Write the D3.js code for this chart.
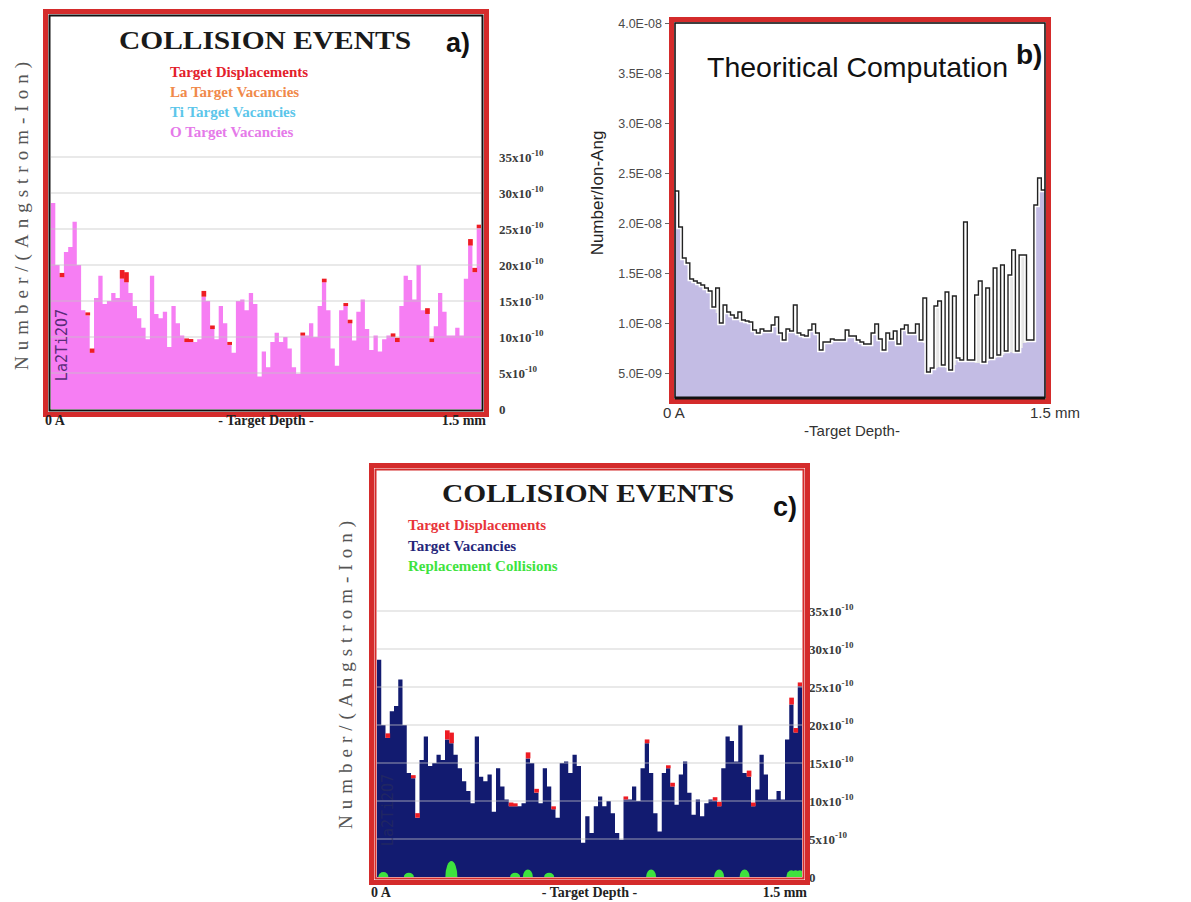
<!DOCTYPE html>
<html>
<head>
<meta charset="utf-8">
<script src="https://cdn.jsdelivr.net/npm/d3@7"></script>
<style>
  body { margin: 0; background: #fff; }
  svg { display: block; }
</style>
</head>
<body>
<div id="chart"></div>
<script>
// 100 depth bins from 0 A to 1.5 mm
var bins = d3.range(100);

// Target vacancies, x10^-10 per (Angstrom-Ion), same profile in a) and c)
var vacancies = [
  28.6, 20.0, 18.3, 21.8, 22.5, 26.0, 20.0, 13.7, 13.0, 7.8,
  15.4, 18.5, 14.6, 15.0, 16.1, 15.4, 18.1, 17.6, 16.1, 14.3,
  12.6, 11.3, 9.7, 18.5, 13.2, 12.6, 13.5, 8.6, 14.3, 11.9,
  10.2, 9.3, 9.3, 9.3, 9.7, 15.6, 15.0, 11.1, 9.7, 14.3,
  11.9, 8.9, 7.8, 15.0, 15.2, 13.7, 16.1, 14.6, 4.5, 8.0,
  5.8, 9.3, 10.6, 9.3, 10.0, 8.4, 5.8, 4.9, 10.2, 10.2,
  11.9, 10.0, 14.3, 17.6, 13.7, 8.4, 6.0, 13.7, 14.3, 11.9,
  9.5, 13.5, 15.2, 11.1, 8.2, 10.2, 8.0, 9.7, 10.2, 10.0,
  9.3, 14.3, 18.5, 17.9, 15.2, 20.0, 13.7, 13.2, 9.3, 11.5,
  16.1, 13.5, 10.2, 10.2, 11.3, 10.2, 18.1, 22.7, 19.0, 25.1
];

// Target displacements where they show above the vacancies: [bin, value]
var displacements = [
  [2, 18.9], [8, 13.4], [9, 8.4], [16, 19.3], [17, 19.0], [31, 9.8], [32, 9.6],
  [35, 16.4], [37, 11.6], [41, 9.3], [58, 10.6], [63, 18.1], [68, 14.7], [69, 12.4],
  [79, 10.5], [80, 9.9], [87, 14.0], [88, 9.8], [97, 23.6], [98, 19.6], [99, 25.6]
];

// Replacement collisions in c): [bin, value]
var replacements = [
  [1, 0.6], [7, 0.5], [17, 1.9], [32, 0.5], [35, 0.9], [40, 0.5],
  [64, 0.9], [80, 0.9], [86, 0.9], [97, 0.8], [98, 0.8], [99, 0.8]
];

// b) Theoritical computation, x10^-9 Number/Ion-Ang
var theoryLine = [
  23.2, 19.6, 16.5, 16.0, 14.4, 14.2, 14.0, 13.8, 13.5, 13.2,
  11.6, 13.5, 10.0, 11.8, 11.1, 10.8, 10.5, 11.1, 10.3, 10.2,
  10.1, 9.3, 9.0, 9.4, 9.2, 9.2, 9.8, 10.6, 9.0, 8.3,
  9.4, 9.2, 11.8, 9.0, 8.8, 8.7, 9.3, 9.9, 9.0, 7.3,
  8.1, 8.1, 8.4, 8.3, 8.3, 8.3, 9.3, 8.7, 8.7, 8.3,
  8.1, 7.9, 7.9, 9.0, 9.9, 8.4, 7.3, 9.0, 8.4, 9.2,
  7.9, 9.4, 9.8, 9.0, 9.0, 9.9, 8.3, 12.5, 5.1, 5.5,
  11.7, 12.2, 5.8, 13.1, 5.3, 12.7, 6.5, 6.3, 20.1, 6.3,
  6.3, 12.8, 14.2, 6.1, 13.5, 6.5, 15.5, 6.8, 15.8, 7.2,
  14.8, 17.3, 7.2, 16.8, 16.8, 8.3, 8.3, 21.8, 24.5, 23.3
];
var theoryFill = [
  23.2, 19.6, 16.5, 16.0, 14.4, 14.2, 14.0, 13.8, 13.5, 13.2,
  11.4, 11.0, 10.0, 11.8, 11.1, 10.8, 10.5, 11.1, 10.3, 10.2,
  10.1, 9.3, 9.0, 9.4, 9.2, 9.2, 9.8, 10.6, 9.0, 8.3,
  9.4, 9.2, 9.1, 9.0, 8.8, 8.7, 9.3, 9.9, 9.0, 7.3,
  8.1, 8.1, 8.4, 8.3, 8.3, 8.3, 9.3, 8.7, 8.7, 8.3,
  8.1, 7.9, 7.9, 9.0, 9.9, 8.4, 7.3, 9.0, 8.4, 9.2,
  7.9, 9.4, 9.8, 9.0, 9.0, 9.9, 8.3, 8.0, 5.0, 5.3,
  5.5, 5.6, 5.7, 5.5, 5.3, 5.8, 6.3, 6.2, 6.2, 6.2,
  6.2, 6.0, 6.0, 6.0, 6.2, 6.4, 6.5, 6.7, 6.8, 7.1,
  7.1, 7.0, 7.0, 7.5, 8.0, 8.2, 8.2, 21.6, 24.3, 23.1
];

// tick values and labels
var collisionTicks = [0, 5, 10, 15, 20, 25, 30, 35];
var theoryTicks = [5, 10, 15, 20, 25, 30, 35, 40];
var theoryTickLabels = ["5.0E-09", "1.0E-08", "1.5E-08", "2.0E-08", "2.5E-08", "3.0E-08", "3.5E-08", "4.0E-08"];

var serif = "'Liberation Serif', 'Times New Roman', serif";
var sans = "'Liberation Sans', Arial, sans-serif";
var narrow = "'Liberation Sans Narrow', 'Arial Narrow', 'Liberation Sans', sans-serif";
var frameRed = "#d42b2b";

var svg = d3.select("#chart").append("svg")
  .attr("width", 1191)
  .attr("height", 902)
  .style("background", "#fff");

// step points: one per bin plus the closing edge
var stepPts = arr => arr.map((d, i) => [i, d]).concat([[arr.length, arr[arr.length - 1]]]);

// Draws one of the SRIM style collision panels (a and c)
function collisionPanel(p) {
  var g = svg.append("g");
  var x = d3.scaleBand().domain(bins).range([p.left, p.right]);
  var y = d3.scaleLinear().domain([0, 35]).range([p.bottom, p.bottom - 35 * p.unit]);
  var bw = x.bandwidth();
  var xEdge = i => p.left + i * bw;

  g.append("clipPath").attr("id", "clip-" + p.letter[0])
    .append("rect")
    .attr("x", p.left).attr("y", p.top)
    .attr("width", p.right - p.left).attr("height", p.bottom - p.top);
  var plot = g.append("g").attr("clip-path", `url(#clip-${p.letter[0]})`);

  plot.append("path")
    .datum(stepPts(vacancies))
    .attr("fill", p.barColor)
    .attr("d", d3.area().curve(d3.curveStepAfter)
      .x(d => xEdge(d[0])).y0(y(0)).y1(d => y(d[1])));

  plot.selectAll(".disp").data(displacements).join("rect")
    .attr("x", d => x(d[0]))
    .attr("width", bw + 0.4)
    .attr("y", d => Math.min(y(d[1]), y(vacancies[d[0]]) - 3))
    .attr("height", d => Math.max(3, y(vacancies[d[0]]) - y(d[1])))
    .attr("fill", "#ee1c24");

  if (p.green) {
    plot.selectAll(".rep").data(replacements).join("ellipse")
      .attr("cx", d => x(d[0]) + bw / 2)
      .attr("cy", y(0))
      .attr("rx", d => d[1] > 1.5 ? 6 : 5)
      .attr("ry", d => (y(0) - y(d[1])) * 1.1)
      .attr("fill", "#3ee23e");
  }

  // gridlines sit over the bars
  plot.selectAll(".grid").data(collisionTicks.filter(d => d > 0)).join("line")
    .attr("x1", p.left).attr("x2", p.right)
    .attr("y1", d => y(d)).attr("y2", d => y(d))
    .attr("stroke", "#c4c4c4")
    .attr("stroke-opacity", 0.75)
    .attr("stroke-width", 1.2);

  // right hand labels
  var ax = g.append("g")
    .attr("transform", `translate(${p.labelX},0)`)
    .call(d3.axisRight(y).tickValues(collisionTicks).tickSize(0).tickPadding(0));
  ax.select(".domain").remove();
  ax.selectAll("text")
    .attr("font-family", serif)
    .attr("font-weight", "bold")
    .attr("font-size", 13)
    .attr("fill", "#3a3a3a")
    .each(function(d) {
      var t = d3.select(this);
      t.text(null);
      if (d === 0) { t.text("0"); return; }
      t.append("tspan").text(d + "x10");
      t.append("tspan").attr("dy", -6).attr("font-size", 9).text("-10");
    });

  // material label
  g.append("text")
    .attr("transform", `translate(${p.matX},${p.matY}) rotate(-90)`)
    .attr("text-anchor", "middle")
    .attr("font-family", "'DejaVu Sans Mono', monospace")
    .attr("font-size", 15)
    .attr("fill", p.matColor)
    .attr("opacity", p.matOpacity)
    .text("La2Ti2O7");

  // frame
  g.append("rect")
    .attr("x", p.left - 5.5).attr("y", p.top - 5.5)
    .attr("width", p.right - p.left + 11).attr("height", p.bottom - p.top + 11)
    .attr("fill", "none").attr("stroke", frameRed).attr("stroke-width", 5);
  g.append("rect")
    .attr("x", p.left - 1.5).attr("y", p.top - 1.5)
    .attr("width", p.right - p.left + 3).attr("height", p.bottom - p.top + 3)
    .attr("fill", "none").attr("stroke", p.innerFrame).attr("stroke-width", 2);

  // title and panel letter
  g.append("text")
    .attr("x", p.titleX).attr("y", p.titleY)
    .attr("text-anchor", "middle")
    .attr("font-family", serif).attr("font-weight", "bold").attr("font-size", 25)
    .attr("textLength", 292).attr("lengthAdjust", "spacingAndGlyphs")
    .attr("fill", "#1a1a1a")
    .text("COLLISION EVENTS");
  g.append("text")
    .attr("x", p.letterX).attr("y", p.letterY)
    .attr("font-family", narrow).attr("font-weight", "bold").attr("font-size", 27)
    .attr("fill", "#111")
    .text(p.letter);

  // legend
  g.selectAll(".legend").data(p.legend).join("text")
    .attr("x", p.legendX)
    .attr("y", (d, i) => p.legendY + i * p.legendStep)
    .attr("font-family", serif).attr("font-weight", "bold").attr("font-size", 15)
    .attr("fill", d => d.color)
    .text(d => d.name);

  // y title
  g.append("text")
    .attr("transform", `translate(${p.yTitleX},${p.yTitleY}) rotate(-90)`)
    .attr("text-anchor", "middle")
    .attr("font-family", serif).attr("font-size", 19)
    .attr("textLength", 308).attr("lengthAdjust", "spacing")
    .attr("fill", "#555")
    .text("Number/(Angstrom-Ion)");

  // depth labels
  var depth = g.append("g")
    .attr("font-family", serif).attr("font-weight", "bold").attr("font-size", 14)
    .attr("fill", "#222");
  depth.append("text").attr("x", p.left - 6).attr("y", p.depthY).text("0 A");
  depth.append("text").attr("x", (p.left + p.right) / 2).attr("y", p.depthY)
    .attr("text-anchor", "middle").text("- Target Depth -");
  depth.append("text").attr("x", p.right + 5).attr("y", p.depthY)
    .attr("text-anchor", "end").text("1.5 mm");
}

collisionPanel({
  left: 51, right: 481, top: 17, bottom: 409, unit: 7.2,
  barColor: "#f67ef3", innerFrame: "#111", green: false,
  labelX: 499,
  matX: 67, matY: 345, matColor: "#5a2c78", matOpacity: 1,
  titleX: 265, titleY: 49, letter: "a)", letterX: 446, letterY: 52,
  legendX: 170, legendY: 77, legendStep: 20,
  legend: [
    {name: "Target Displacements", color: "#e3202b"},
    {name: "La Target Vacancies", color: "#f0894a"},
    {name: "Ti Target Vacancies", color: "#5cc6ea"},
    {name: "O Target Vacancies", color: "#e57ae9"}
  ],
  yTitleX: 28, yTitleY: 216, depthY: 425
});

collisionPanel({
  left: 377, right: 802, top: 471, bottom: 877, unit: 7.6,
  barColor: "#121b70", innerFrame: frameRed, green: true,
  labelX: 809,
  matX: 393, matY: 810, matColor: "#2a2e5c", matOpacity: 0.6,
  titleX: 588, titleY: 502, letter: "c)", letterX: 773, letterY: 516,
  legendX: 408, legendY: 530, legendStep: 20.5,
  legend: [
    {name: "Target Displacements", color: "#e8343a"},
    {name: "Target Vacancies", color: "#25267a"},
    {name: "Replacement Collisions", color: "#3ee33e"}
  ],
  yTitleX: 352, yTitleY: 675, depthY: 897
});

// Panel b) theoretical computation
var bLeft = 675, bRight = 1045, bTop = 23, bBottom = 398;
var xB = d3.scaleLinear().domain([0, 100]).range([bLeft, bRight]);
var yB = d3.scaleLinear().domain([2.5, 40]).range([bBottom, bTop]);
var gB = svg.append("g");

gB.append("path")
  .datum(stepPts(theoryLine))
  .attr("fill", "#e6e6e6")
  .attr("d", d3.area().curve(d3.curveStepAfter)
    .x(d => xB(d[0])).y0(bBottom).y1(d => yB(d[1])));

gB.append("path")
  .datum(stepPts(theoryFill))
  .attr("fill", "#c3bce4")
  .attr("d", d3.area().curve(d3.curveStepAfter)
    .x(d => xB(d[0])).y0(bBottom).y1(d => yB(d[1])));

var stepLine = d3.line().curve(d3.curveStepAfter).x(d => xB(d[0])).y(d => yB(d[1]));
gB.append("path")
  .datum(stepPts(theoryLine))
  .attr("fill", "none").attr("stroke", "#fff").attr("stroke-width", 4.5)
  .attr("d", stepLine);
gB.append("path")
  .datum(stepPts(theoryLine))
  .attr("fill", "none").attr("stroke", "#222").attr("stroke-width", 1.4)
  .attr("d", stepLine);

// frame
gB.append("rect")
  .attr("x", bLeft - 3.5).attr("y", bTop - 3.5)
  .attr("width", bRight - bLeft + 7).attr("height", bBottom - bTop + 7)
  .attr("fill", "none").attr("stroke", frameRed).attr("stroke-width", 5);
gB.append("rect")
  .attr("x", bLeft).attr("y", bTop)
  .attr("width", bRight - bLeft).attr("height", bBottom - bTop)
  .attr("fill", "none").attr("stroke", "#111").attr("stroke-width", 1.6);
gB.append("line")
  .attr("x1", bLeft).attr("x2", bRight).attr("y1", bBottom).attr("y2", bBottom)
  .attr("stroke", "#111").attr("stroke-width", 3);

// left axis
var axB = gB.append("g")
  .attr("transform", `translate(${bLeft - 6},0)`)
  .call(d3.axisLeft(yB).tickValues(theoryTicks).tickSize(4).tickPadding(3)
    .tickFormat((d, i) => theoryTickLabels[i]));
axB.select(".domain").remove();
axB.selectAll("line").attr("stroke", "#666");
axB.selectAll("text")
  .attr("font-family", sans).attr("font-size", 12.5).attr("fill", "#4a4a4a");

gB.append("text")
  .attr("transform", "translate(603,193) rotate(-90)")
  .attr("text-anchor", "middle")
  .attr("font-family", sans).attr("font-size", 17).attr("fill", "#222")
  .text("Number/Ion-Ang");

gB.append("text")
  .attr("x", 707).attr("y", 77)
  .attr("font-family", sans).attr("font-size", 28.5).attr("fill", "#111")
  .text("Theoritical Computation");
gB.append("text")
  .attr("x", 1016).attr("y", 64)
  .attr("font-family", narrow).attr("font-weight", "bold").attr("font-size", 28)
  .attr("fill", "#111")
  .text("b)");

var depthB = gB.append("g").attr("font-family", sans).attr("font-size", 15).attr("fill", "#333");
depthB.append("text").attr("x", 663).attr("y", 418).text("0 A");
depthB.append("text").attr("x", 852).attr("y", 436).attr("text-anchor", "middle").text("-Target Depth-");
depthB.append("text").attr("x", 1080).attr("y", 418).attr("text-anchor", "end").text("1.5 mm");
</script>
</body>
</html>
